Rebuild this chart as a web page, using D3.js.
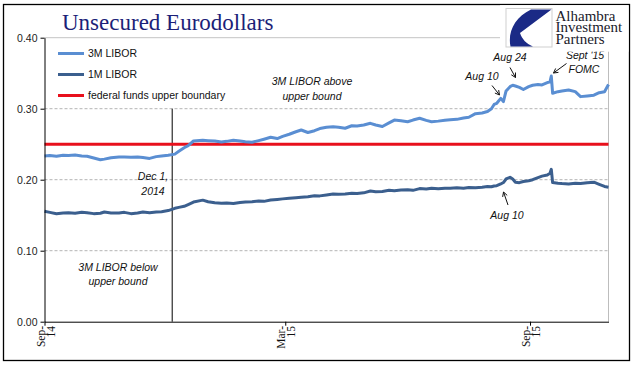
<!DOCTYPE html>
<html>
<head>
<meta charset="utf-8">
<script src="https://cdn.jsdelivr.net/npm/d3@7/dist/d3.min.js"></script>
<style>
  html, body { margin: 0; padding: 0; background: #fff; }
  svg { display: block; }
</style>
</head>
<body>
<svg id="chart" width="641" height="375"></svg>
<script>
// ---------------- DATA ----------------
const dates = [
  "2014-09-01","2014-09-05","2014-09-10","2014-09-15","2014-09-19","2014-09-24","2014-09-29",
  "2014-10-03","2014-10-08","2014-10-13","2014-10-16","2014-10-21","2014-10-27","2014-10-31",
  "2014-11-05","2014-11-10","2014-11-14","2014-11-19","2014-11-24","2014-11-28",
  "2014-12-03","2014-12-08","2014-12-11","2014-12-15","2014-12-18","2014-12-22","2014-12-29",
  "2015-01-02","2015-01-07","2015-01-12","2015-01-16","2015-01-21","2015-01-26","2015-01-30",
  "2015-02-04","2015-02-09","2015-02-13","2015-02-18","2015-02-23","2015-02-27",
  "2015-03-04","2015-03-09","2015-03-13","2015-03-18","2015-03-23","2015-03-27",
  "2015-04-01","2015-04-06","2015-04-10","2015-04-15","2015-04-20","2015-04-24","2015-04-29",
  "2015-05-04","2015-05-08","2015-05-13","2015-05-18","2015-05-22","2015-05-27",
  "2015-06-01","2015-06-05","2015-06-10","2015-06-15","2015-06-19","2015-06-24","2015-06-29",
  "2015-07-03","2015-07-08","2015-07-13","2015-07-17","2015-07-22","2015-07-27","2015-07-31",
  "2015-08-03","2015-08-05","2015-08-07","2015-08-10","2015-08-12","2015-08-14","2015-08-17",
  "2015-08-19","2015-08-21","2015-08-24","2015-08-27","2015-08-31",
  "2015-09-03","2015-09-07","2015-09-10","2015-09-14","2015-09-16","2015-09-17","2015-09-18",
  "2015-09-22","2015-09-25","2015-09-30","2015-10-05","2015-10-09","2015-10-14","2015-10-19",
  "2015-10-23","2015-10-27","2015-10-30"
];
const libor3M = [
  0.2335,0.2340,0.2330,0.2345,0.2340,0.2348,0.2335,
  0.2330,0.2305,0.2280,0.2290,0.2310,0.2320,0.2318,
  0.2315,0.2320,0.2312,0.2300,0.2325,0.2335,
  0.2345,0.2360,0.2400,0.2450,0.2480,0.2545,0.2555,
  0.2550,0.2545,0.2530,0.2540,0.2555,0.2545,0.2535,
  0.2527,0.2550,0.2570,0.2597,0.2580,0.2610,
  0.2640,0.2675,0.2700,0.2665,0.2690,0.2720,
  0.2738,0.2745,0.2740,0.2725,0.2760,0.2755,0.2770,
  0.2794,0.2770,0.2750,0.2800,0.2840,0.2830,
  0.2817,0.2840,0.2865,0.2835,0.2817,0.2825,0.2838,
  0.2845,0.2850,0.2870,0.2880,0.2930,0.2940,0.2960,
  0.3000,0.3060,0.3076,0.3146,0.3100,0.3250,0.3310,
  0.3330,0.3320,0.3300,0.3270,0.3310,
  0.3330,0.3340,0.3335,0.3366,0.3380,0.3460,0.3217,
  0.3240,0.3250,0.3264,0.3240,0.3170,0.3180,0.3190,
  0.3226,0.3240,0.3340
];
const libor1M = [
  0.1555,0.1540,0.1520,0.1530,0.1535,0.1528,0.1540,
  0.1535,0.1522,0.1527,0.1545,0.1532,0.1530,0.1540,
  0.1522,0.1530,0.1545,0.1535,0.1545,0.1550,
  0.1565,0.1597,0.1610,0.1625,0.1650,0.1685,0.1712,
  0.1690,0.1675,0.1668,0.1672,0.1665,0.1680,0.1685,
  0.1690,0.1700,0.1695,0.1714,0.1722,0.1730,
  0.1738,0.1745,0.1752,0.1760,0.1775,0.1772,
  0.1785,0.1800,0.1795,0.1800,0.1810,0.1805,0.1815,
  0.1840,0.1830,0.1835,0.1850,0.1845,0.1855,
  0.1860,0.1850,0.1875,0.1870,0.1880,0.1872,0.1880,
  0.1878,0.1885,0.1880,0.1890,0.1888,0.1895,0.1905,
  0.1900,0.1912,0.1915,0.1940,0.1960,0.2010,0.2034,
  0.2010,0.1965,0.1958,0.1975,0.1986,
  0.2000,0.2030,0.2050,0.2066,0.2090,0.2146,0.1960,
  0.1950,0.1945,0.1940,0.1950,0.1945,0.1958,0.1965,
  0.1935,0.1905,0.1895
];
const fedFundsUpper = 0.25;
const yTicks = [0, 0.10, 0.20, 0.30, 0.40];
const xTickDates = ["2014-09-01", "2015-03-01", "2015-09-01"];
const xTickLabels = ["Sep-14", "Mar-15", "Sep-15"];
const xDomain = ["2014-09-01", "2015-10-30"];
const seriesNames = ["3M LIBOR", "1M LIBOR", "federal funds upper boundary"];
const markerDate = "2014-12-06";

// ---------------- SETUP ----------------
const parse = d3.timeParse("%Y-%m-%d");
const svg = d3.select("#chart");
const x = d3.scaleTime().domain(xDomain.map(parse)).range([44.5, 608.5]);
const y = d3.scaleLinear().domain([0, 0.4]).range([321.7, 37.7]);

const c3M = "#5a8ed2", c1M = "#3b5f8e", cRed = "#e8101c";
const sans = "'Liberation Sans', Arial, sans-serif";
const serif = "'Liberation Serif', 'Times New Roman', serif";

// outer frame
svg.append("rect").attr("x", 3.5).attr("y", 4.5).attr("width", 626).attr("height", 356)
  .attr("fill", "#fff").attr("stroke", "#000").attr("stroke-width", 1.3);

// gridlines
yTicks.filter(v => v > 0).forEach(v => {
  svg.append("line")
    .attr("x1", x.range()[0]).attr("x2", x.range()[1])
    .attr("y1", y(v)).attr("y2", y(v))
    .attr("stroke", v === 0.4 ? "#c4c4c4" : "#b4b4b4")
    .attr("stroke-width", 1)
    .attr("stroke-dasharray", v === 0.4 ? null : "3,2");
});
// right plot border
svg.append("line").attr("x1", x.range()[1]).attr("x2", x.range()[1])
  .attr("y1", y(0.4)).attr("y2", y(0)).attr("stroke", "#bdbdbd").attr("stroke-width", 1);

// marker vertical line (Dec 1, 2014)
svg.append("line").attr("x1", x(parse(markerDate))).attr("x2", x(parse(markerDate)))
  .attr("y1", y(0.30)).attr("y2", y(0)).attr("stroke", "#000").attr("stroke-width", 1);

// fed funds line
svg.append("line").attr("x1", x.range()[0]).attr("x2", x.range()[1])
  .attr("y1", y(fedFundsUpper)).attr("y2", y(fedFundsUpper))
  .attr("stroke", cRed).attr("stroke-width", 3);

// series
const d3M = dates.map((d, i) => ({date: parse(d), v: libor3M[i]}));
const d1M = dates.map((d, i) => ({date: parse(d), v: libor1M[i]}));
const line = d3.line().x(d => x(d.date)).y(d => y(d.v));
svg.append("path").datum(d1M).attr("d", line).attr("fill", "none")
  .attr("stroke", c1M).attr("stroke-width", 3).attr("stroke-linejoin", "round");
svg.append("path").datum(d3M).attr("d", line).attr("fill", "none")
  .attr("stroke", c3M).attr("stroke-width", 3).attr("stroke-linejoin", "round");

// axes
const yAxis = svg.append("g").attr("transform", `translate(${x.range()[0]},0)`)
  .call(d3.axisLeft(y).tickValues(yTicks).tickFormat(d3.format(".2f")).tickSize(4).tickSizeOuter(0).tickPadding(3));
yAxis.selectAll("text").attr("font-family", sans).attr("font-size", "10.5px").attr("fill", "#222");
yAxis.selectAll("path,line").attr("stroke", "#000");

const xAxis = svg.append("g").attr("transform", `translate(0,${y(0)})`)
  .call(d3.axisBottom(x).tickValues(xTickDates.map(parse)).tickFormat("").tickSize(4).tickSizeOuter(0));
xAxis.selectAll("path,line").attr("stroke", "#000");
xTickDates.forEach((d, i) => {
  const parts = xTickLabels[i].split("-");
  const t = svg.append("text")
    .attr("transform", `translate(${x(parse(d))},326) rotate(-90)`)
    .attr("text-anchor", "end").attr("font-family", serif).attr("font-size", "11.5px").attr("fill", "#111");
  t.append("tspan").attr("x", 0).attr("y", 0).text(parts[0] + "-");
  t.append("tspan").attr("x", 0).attr("y", 10).text(parts[1]);
});

// title
svg.append("text").attr("x", 62).attr("y", 29.5).attr("font-family", serif)
  .attr("font-size", "23px").attr("fill", "#1c1f78").text("Unsecured Eurodollars");

// legend
const legColors = [c3M, c1M, cRed];
const legY = [53.5, 74.5, 95.5];
seriesNames.forEach((n, i) => {
  svg.append("line").attr("x1", 58).attr("x2", 84).attr("y1", legY[i]).attr("y2", legY[i])
    .attr("stroke", legColors[i]).attr("stroke-width", 3);
  svg.append("text").attr("x", 88).attr("y", legY[i] + 3.8).attr("font-family", sans)
    .attr("font-size", "10.5px").attr("fill", "#111").text(n);
});

// annotations
function note(lines, cx, y0, anchor) {
  const t = svg.append("text").attr("font-family", sans).attr("font-style", "italic")
    .attr("font-size", "10.5px").attr("fill", "#111").attr("text-anchor", anchor || "middle");
  lines.forEach((s, i) => t.append("tspan").attr("x", cx).attr("y", y0 + i * 14.5).text(s));
}
note(["Dec 1,", "2014"], 153, 180);
note(["3M LIBOR below", "upper bound"], 118, 270.5);
note(["3M LIBOR above", "upper bound"], 312, 85);
note(["Aug 10"], 482, 79.5);
note(["Aug 24"], 510, 61);
note(["Sept '15"], 585, 59);
note(["FOMC"], 584, 72.5);
note(["Aug 10"], 507, 218.5);

function arrow(x1, y1, x2, y2) {
  const a = Math.atan2(y2 - y1, x2 - x1), L = 5, s = 0.5;
  svg.append("path")
    .attr("d", `M${x1},${y1}L${x2},${y2}M${x2 - L * Math.cos(a - s)},${y2 - L * Math.sin(a - s)}L${x2},${y2}L${x2 - L * Math.cos(a + s)},${y2 - L * Math.sin(a + s)}`)
    .attr("fill", "none").attr("stroke", "#111").attr("stroke-width", 1);
}
arrow(492, 85.5, 499.5, 95);
arrow(510, 67.5, 515.5, 77.5);
arrow(566.5, 63.5, 553.5, 73);
arrow(508, 205, 503.5, 192);

// logo
svg.append("rect").attr("x", 500).attr("y", 5.2).attr("width", 128.5).attr("height", 46.5).attr("fill", "#fff");
svg.append("rect").attr("x", 506).attr("y", 8.5).attr("width", 46).attr("height", 38.5)
  .attr("fill", "#fff").attr("stroke", "#cfcfcf").attr("stroke-width", 1);
svg.append("path")
  .attr("d", "M531,9.5 L551.5,9.5 L520,33 C522,39 526,43.5 533,46.5 L510.5,46.5 C507.5,32 515,17 531,9.5 Z")
  .attr("fill", "#1b2a86");
["Alhambra", "Investment", "Partners"].forEach((s, i) => {
  svg.append("text").attr("x", 555.5).attr("y", 20.8 + i * 11.6).attr("font-family", serif)
    .attr("font-size", "15px").attr("fill", "#1a1a2a").text(s);
});
</script>
</body>
</html>
